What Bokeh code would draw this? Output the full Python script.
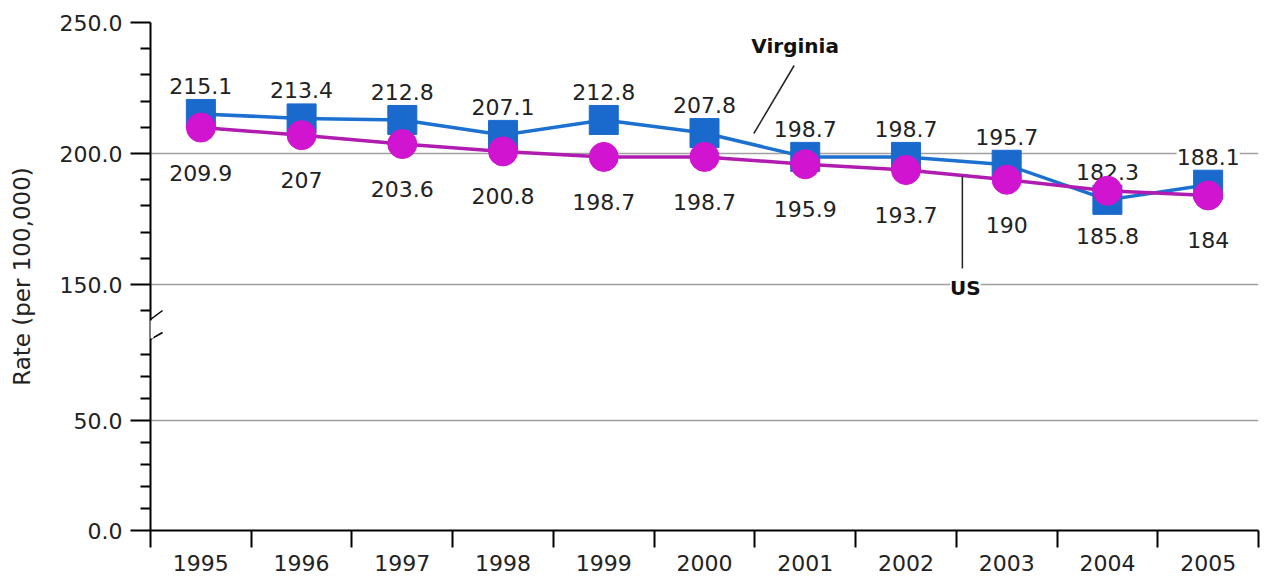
from bokeh.plotting import figure
from bokeh.models import Range1d, FixedTicker, BoxAnnotation, Arrow
from bokeh.core.properties import value
from bokeh.embed import file_html
from bokeh.resources import INLINE

# ---------------- data ----------------
years = ["1995", "1996", "1997", "1998", "1999", "2000", "2001", "2002", "2003", "2004", "2005"]
virginia = [215.1, 213.4, 212.8, 207.1, 212.8, 207.8, 198.7, 198.7, 195.7, 182.3, 188.1]
us = [209.9, 207.0, 203.6, 200.8, 198.7, 198.7, 195.9, 193.7, 190.0, 185.8, 184.0]
y_tick_values = [0, 50, 150, 200, 250]
y_tick_labels = ["0.0", "50.0", "150.0", "200.0", "250.0"]
y_minor_values = [10, 20, 30, 40, 60, 70, 80, 140, 160, 170, 180, 190, 210, 220, 230, 240]
y_grid_values = [50, 150, 200, 250]

# ---------------- broken y axis (two linear segments) ----------------
LOW_SCALE = 2.2
HIGH_SCALE = 2.62
HIGH_BASE = 150
HIGH_OFFSET = 246


def brk(v):
    if v < 100:
        return v * LOW_SCALE
    return HIGH_OFFSET + (v - HIGH_BASE) * HIGH_SCALE


def fmt(v):
    return f"{v:g}"


x = [i + 0.5 for i in range(len(years))]
vy = [brk(v) for v in virginia]
uy = [brk(v) for v in us]

FONT = value("DejaVu Sans")
TXT = "#222222"

p = figure(width=1266, height=580, x_range=Range1d(0, len(years)), y_range=Range1d(0, 508),
           output_backend="svg", toolbar_location=None,
           min_border_left=150, min_border_right=8, min_border_top=22, min_border_bottom=50)
p.outline_line_color = None
p.background_fill_color = "white"

# x axis: ticks at category boundaries, labels at centres
xa = p.xaxis[0]
xa.ticker = FixedTicker(ticks=x, minor_ticks=list(range(len(years) + 1)))
xa.major_label_overrides = {xi: y for xi, y in zip(x, years)}
xa.major_tick_out = 0
xa.major_tick_in = 0
xa.minor_tick_out = 17
xa.minor_tick_in = 0
xa.minor_tick_line_color = "black"
xa.minor_tick_line_width = 2
xa.axis_line_width = 2
xa.axis_line_color = "black"
xa.major_label_standoff = 7
xa.major_label_text_font = "DejaVu Sans"
xa.major_label_text_font_size = "22px"
xa.major_label_text_color = TXT

# y axis
ya = p.yaxis[0]
ya.ticker = FixedTicker(ticks=[brk(v) for v in y_tick_values], minor_ticks=[brk(v) for v in y_minor_values])
ya.major_label_overrides = {brk(v): lab for v, lab in zip(y_tick_values, y_tick_labels)}
ya.major_tick_out = 20
ya.major_tick_in = 0
ya.minor_tick_out = 10
ya.minor_tick_in = 0
ya.major_tick_line_width = 2
ya.minor_tick_line_width = 2
ya.axis_line_width = 2
ya.axis_line_color = "black"
ya.major_label_standoff = 8
ya.major_label_text_font = "DejaVu Sans"
ya.major_label_text_font_size = "22px"
ya.major_label_text_color = TXT
ya.axis_label = "Rate (per 100,000)"
ya.axis_label_text_font = "DejaVu Sans"
ya.axis_label_text_font_size = "23px"
ya.axis_label_text_font_style = "normal"
ya.axis_label_text_color = TXT
ya.axis_label_standoff = 22

p.xgrid.visible = False
p.ygrid.ticker = FixedTicker(ticks=[brk(v) for v in y_grid_values])
p.ygrid.grid_line_color = "#a0a0a0"
p.ygrid.grid_line_width = 1.5

# data labels (drawn first so the markers sit on top)
p.text(x=x, y=vy, text=[fmt(v) for v in virginia], text_align="center", text_baseline="middle",
       y_offset=-28, text_font=FONT, text_font_size="22px", text_color=TXT,
       background_fill_color="white")
p.text(x=x, y=uy, text=[fmt(v) for v in us], text_align="center", text_baseline="middle",
       y_offset=45, text_font=FONT, text_font_size="22px", text_color=TXT,
       background_fill_color="white")

# series
p.line(x, vy, line_color="#1c70d0", line_width=3.5)
p.scatter(x, vy, marker="square", size=29, fill_color="#1a6acd", line_color="#1a6acd")
p.line(x, uy, line_color="#b01cb0", line_width=3.5)
p.scatter(x, uy, marker="circle", size=29, fill_color="#d014d0", line_color="#d014d0")

# series name call-outs
p.segment(x0=[5.99], y0=[397], x1=[6.39], y1=[465], line_color="#222222", line_width=1.5)
p.text(x=[6.40], y=[485], text=["Virginia"], text_align="center", text_baseline="middle",
       text_font=FONT, text_font_size="20px", text_font_style="bold", text_color="#111111",
       background_fill_color="white")
p.segment(x0=[8.06], y0=[354], x1=[8.06], y1=[262], line_color="#222222", line_width=1.5)
p.text(x=[8.09], y=[243], text=["US"], text_align="center", text_baseline="middle",
       text_font=FONT, text_font_size="20px", text_font_style="bold", text_color="#111111",
       background_fill_color="white")

# axis break marks
p.add_layout(BoxAnnotation(left=-0.03, right=0.03, bottom=192, top=210,
                           fill_color="white", fill_alpha=1, line_color=None, level="overlay"))
p.add_layout(Arrow(end=None, x_start=-0.08, y_start=205, x_end=0.12, y_end=220,
                   line_color="black", line_width=1.5))
p.add_layout(Arrow(end=None, x_start=-0.07, y_start=187, x_end=0.12, y_end=198,
                   line_color="black", line_width=1.5))

open("out.html", "w").write(file_html(p, INLINE))
